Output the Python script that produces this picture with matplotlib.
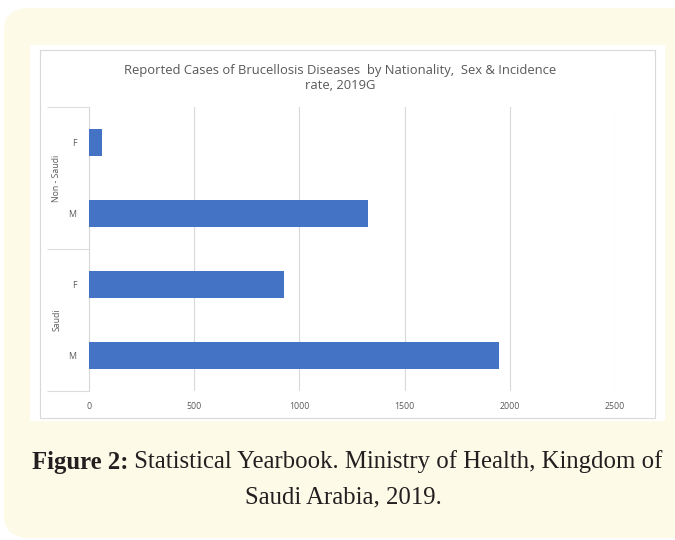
import matplotlib.pyplot as plt
from matplotlib.patches import FancyBboxPatch, Rectangle
from matplotlib.lines import Line2D
from matplotlib.transforms import blended_transform_factory

# data, bottom to top as drawn in the chart
groups = ["Saudi", "Saudi", "Non - Saudi", "Non - Saudi"]
sexes = ["M", "F", "M", "F"]
cases = [1950, 925, 1325, 60]
group_names = ["Saudi", "Non - Saudi"]
x_ticks = [0, 500, 1000, 1500, 2000, 2500]

fig = plt.figure(figsize=(6.75, 5.4), dpi=100)
W, H = 675, 540

def fx(px):
    return px / W

def fy(py):
    return 1 - py / H

# yellow rounded panel
fig.patches.append(FancyBboxPatch((fx(4), fy(538)), fx(700) - fx(4), fy(8) - fy(538),
                                  boxstyle="round,pad=0,rounding_size=0.04",
                                  transform=fig.transFigure, facecolor="#FEFAE8",
                                  edgecolor="none", zorder=0))
# white chart background
fig.patches.append(Rectangle((fx(30), fy(421)), fx(665) - fx(30), fy(45) - fy(421),
                             transform=fig.transFigure, facecolor="white",
                             edgecolor="none", zorder=1))
fig.patches.append(Rectangle((fx(40), fy(418)), fx(655) - fx(40), fy(50) - fy(418),
                             transform=fig.transFigure, facecolor="white",
                             edgecolor="#D9D9D9", linewidth=0.8, zorder=2))

ax = fig.add_axes([fx(89), fy(391), fx(615) - fx(89), fy(107) - fy(391)])
ax.set_zorder(3)
ax.set_facecolor("none")

ypos = list(range(len(cases)))
ax.barh(ypos, cases, height=0.37, color="#4472C4", zorder=3)

ax.set_xlim(0, 2500)
ax.set_ylim(-0.5, len(cases) - 0.5)
ax.set_xticks(x_ticks)
ax.set_xticklabels([str(t) for t in x_ticks], fontsize=6.3, color="#595959",
                   family="Open Sans")
ax.set_yticks(ypos)
ax.set_yticklabels(sexes, fontsize=6.3, color="#595959", family="Open Sans")
ax.tick_params(length=0)
ax.tick_params(axis="x", pad=8)
ax.tick_params(axis="y", pad=9)
ax.grid(axis="x", color="#D9D9D9", linewidth=0.8, zorder=0)
for s in ["top", "right", "bottom"]:
    ax.spines[s].set_visible(False)
ax.spines["left"].set_color("#D9D9D9")
ax.spines["left"].set_linewidth(0.8)

# multi-level category axis: group separators and group labels
tr = blended_transform_factory(ax.transAxes, ax.transData)
for yb in [-0.5, 1.5, 3.5]:
    ax.add_line(Line2D([-0.08, 0], [yb, yb], transform=tr, color="#DDDDDD",
                       linewidth=0.8, clip_on=False, solid_capstyle="butt"))
for i, g in enumerate(group_names):
    ax.text(-0.061, 2 * i + 0.5, g, transform=tr, rotation=90, ha="center",
            va="center", fontsize=6.3, color="#595959", family="Open Sans")

fig.text(fx(340), fy(78), "Reported Cases of Brucellosis Diseases  by Nationality,  Sex & Incidence\nrate, 2019G",
         ha="center", va="center", fontsize=9.4, color="#595959", family="Open Sans",
         linespacing=1.2, zorder=4)

# caption: bold lead-in followed by regular text, centred as one line
cap_bold = "Figure 2:"
cap_rest = " Statistical Yearbook. Ministry of Health, Kingdom of"
cap_size = 17.8
renderer = fig.canvas.get_renderer()
tb = fig.text(0, fy(462), cap_bold, ha="left", va="center", fontsize=cap_size,
              fontweight="bold", color="#231F20", family="Liberation Serif")
tr_ = fig.text(0, fy(462), cap_rest, ha="left", va="center", fontsize=cap_size,
               color="#231F20", family="Liberation Serif")
wb = tb.get_window_extent(renderer).width
wr = tr_.get_window_extent(renderer).width
x0 = 347 - (wb + wr) / 2
tb.set_x(fx(x0))
tr_.set_x(fx(x0 + wb))
fig.text(fx(343), fy(497), "Saudi Arabia, 2019.", ha="center", va="center",
         fontsize=cap_size, color="#231F20", family="Liberation Serif")

fig.savefig("out.png", dpi=100, facecolor="white")
